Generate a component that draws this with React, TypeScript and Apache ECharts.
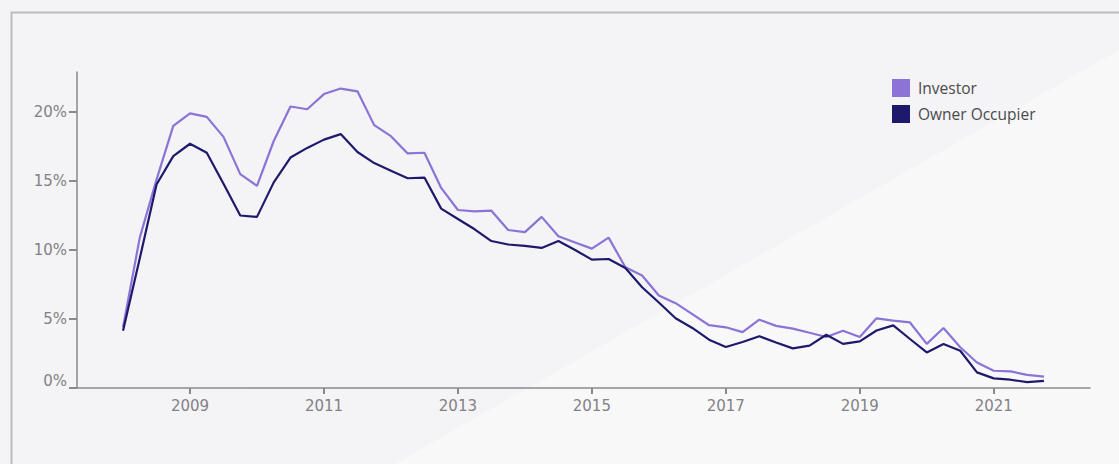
import React, { useEffect, useRef } from "react";
import * as echarts from "echarts";

// Quarterly share of loans (%), 2008 Q1 to 2021 Q4
const firstYear = 2008;
const quarterStep = 0.25;

const investor = [
  4.4, 10.9, 15.1, 19.0, 19.9, 19.65, 18.2, 15.5, 14.65, 17.9, 20.4, 20.2,
  21.3, 21.7, 21.5, 19.05, 18.25, 17.0, 17.05, 14.5, 12.9, 12.8, 12.85, 11.45,
  11.3, 12.4, 11.0, 10.55, 10.1, 10.9, 8.75, 8.15, 6.7, 6.15, 5.35, 4.55,
  4.4, 4.05, 4.95, 4.5, 4.3, 4.0, 3.7, 4.15, 3.7, 5.05, 4.88, 4.75,
  3.2, 4.35, 2.95, 1.85, 1.25, 1.2, 0.95, 0.82,
];

const ownerOccupier = [
  4.15, 9.4, 14.75, 16.8, 17.7, 17.05, 14.8, 12.5, 12.4, 14.9, 16.7, 17.4,
  18.0, 18.4, 17.1, 16.3, 15.75, 15.2, 15.25, 13.0, 12.25, 11.5, 10.65, 10.4,
  10.3, 10.15, 10.65, 10.0, 9.3, 9.35, 8.7, 7.3, 6.2, 5.05, 4.35, 3.5,
  2.97, 3.33, 3.75, 3.3, 2.87, 3.07, 3.86, 3.2, 3.38, 4.17, 4.54, 3.55,
  2.58, 3.19, 2.7, 1.13, 0.7, 0.6, 0.43, 0.52,
];

const yearTicks = [2009, 2011, 2013, 2015, 2017, 2019, 2021];
const percentTicks = [0, 5, 10, 15, 20];

const toPoints = (values: number[]) =>
  values.map((v, i) => [firstYear + i * quarterStep, v]);

const axisGrey = "#8a8a8d";
const labelFont = {
  color: "#828285",
  fontFamily: "DejaVu Sans",
  fontSize: 15,
};

export default function App() {
  const ref = useRef<HTMLDivElement>(null);

  useEffect(() => {
    if (!ref.current) return;
    const chart = echarts.init(ref.current, null, { renderer: "svg" });
    const firstX = firstYear;
    const lastX = firstYear + (investor.length - 1) * quarterStep;
    const pad = (lastX - firstX) * 0.05;

    chart.setOption({
      animation: false,
      backgroundColor: "#f4f3f5",
      graphic: [
        {
          type: "polygon",
          z: -10,
          silent: true,
          shape: {
            points: [
              [1119, 50],
              [1119, 464],
              [395, 464],
            ],
          },
          style: { fill: "#f8f8f9" },
        },
        {
          type: "rect",
          z: -5,
          silent: true,
          shape: { x: 11.5, y: 12.5, width: 1300, height: 600 },
          style: { fill: "none", stroke: "#bcbbc0", lineWidth: 2 },
        },
      ],
      grid: { left: 77, right: 29, top: 72, bottom: 76 },
      legend: {
        orient: "vertical",
        left: 892,
        top: 79,
        padding: 0,
        icon: "rect",
        itemWidth: 18,
        itemHeight: 18,
        itemGap: 8,
        selectedMode: false,
        textStyle: {
          color: "#4a4a4d",
          fontFamily: "Open Sans",
          fontSize: 15.5,
          padding: [0, 0, 0, 3],
        },
        data: ["Investor", "Owner Occupier"],
      },
      xAxis: {
        type: "value",
        min: firstX - pad,
        max: lastX + pad,
        splitLine: { show: false },
        axisLine: { show: true, lineStyle: { color: axisGrey, width: 1.5 } },
        axisTick: {
          show: true,
          length: 6,
          customValues: yearTicks,
          lineStyle: { color: axisGrey, width: 2 },
        },
        axisLabel: {
          ...labelFont,
          margin: 10,
          customValues: yearTicks,
          formatter: (v: number) => String(v),
        },
      },
      yAxis: {
        type: "value",
        min: 0,
        max: 22.9,
        splitLine: { show: false },
        axisLine: { show: true, lineStyle: { color: axisGrey, width: 1.5 } },
        axisTick: {
          show: true,
          length: 8,
          customValues: percentTicks,
          lineStyle: { color: axisGrey, width: 2 },
        },
        axisLabel: {
          ...labelFont,
          margin: 10,
          customValues: percentTicks,
          verticalAlignMinLabel: "bottom",
          formatter: (v: number) => `${v}%`,
        },
      },
      series: [
        {
          name: "Investor",
          type: "line",
          data: toPoints(investor),
          showSymbol: false,
          color: "#8b74d6",
          lineStyle: { width: 2.2, color: "#8b74d6" },
        },
        {
          name: "Owner Occupier",
          type: "line",
          data: toPoints(ownerOccupier),
          showSymbol: false,
          color: "#1d1a6c",
          lineStyle: { width: 2.2, color: "#1d1a6c" },
        },
      ],
    });

    return () => chart.dispose();
  }, []);

  return (
    <div
      ref={ref}
      style={{ position: "fixed", left: 0, top: 0, width: 1119, height: 464 }}
    />
  );
}
